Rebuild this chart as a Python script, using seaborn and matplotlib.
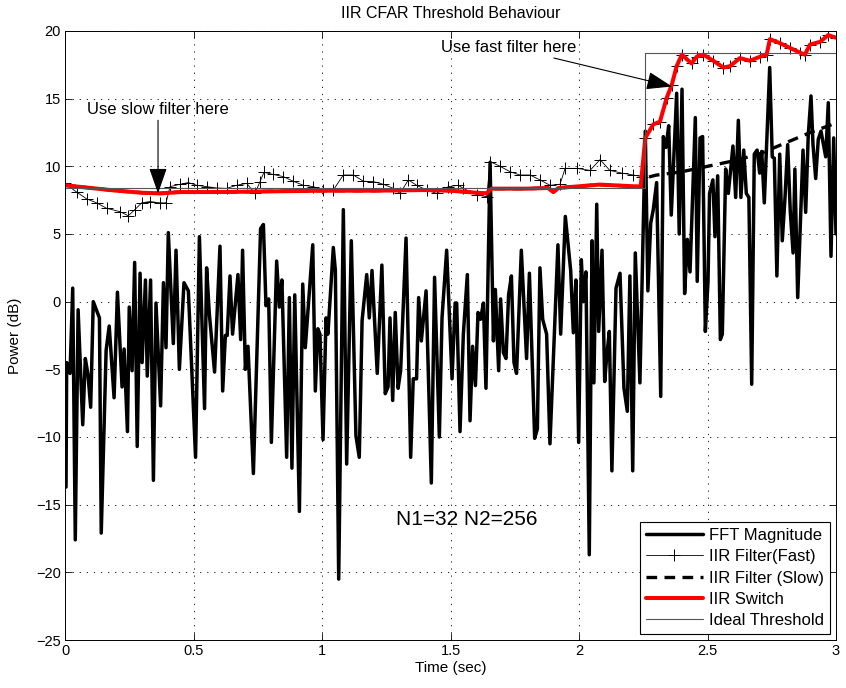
import matplotlib
matplotlib.use("Agg")
import matplotlib.pyplot as plt
import seaborn as sns

# ---------------- data ----------------
fft_t = [0.004, 0.0065, 0.0195, 0.030, 0.040, 0.051, 0.069, 0.079, 0.0895, 0.0999,
         0.110, 0.134, 0.141, 0.160, 0.172, 0.191, 0.204, 0.222, 0.230, 0.243,
         0.250, 0.261, 0.271, 0.281, 0.292, 0.300, 0.313, 0.320, 0.333, 0.344,
         0.354, 0.372, 0.383, 0.393, 0.402, 0.4215, 0.432, 0.445, 0.463, 0.480,
         0.508, 0.523, 0.543, 0.551, 0.5616, 0.582, 0.603, 0.6135, 0.624, 0.631,
         0.642, 0.652, 0.673, 0.6835, 0.691, 0.7017, 0.712, 0.733, 0.761, 0.772,
         0.782, 0.7925, 0.803, 0.8236, 0.834, 0.844, 0.8625, 0.873, 0.883, 0.894,
         0.912, 0.925, 0.935, 0.964, 0.974, 0.984, 0.992, 1.004, 1.0156, 1.023,
         1.044, 1.052, 1.065, 1.083, 1.096, 1.114, 1.132, 1.145, 1.156, 1.174,
         1.184, 1.1946, 1.215, 1.233, 1.246, 1.257, 1.2646, 1.275, 1.285, 1.296,
         1.306, 1.327, 1.345, 1.355, 1.368, 1.376, 1.3865, 1.405, 1.4254, 1.438,
         1.4566, 1.467, 1.485, 1.506, 1.518, 1.524, 1.537, 1.550, 1.5655, 1.576,
         1.586, 1.597, 1.607, 1.617, 1.628, 1.638, 1.654, 1.667, 1.6745, 1.6874,
         1.695, 1.7056, 1.716, 1.726, 1.737, 1.747, 1.757, 1.7756, 1.796, 1.807,
         1.8275, 1.838, 1.848, 1.8586, 1.874, 1.887, 1.918, 1.9287, 1.9468, 1.9676,
         1.978, 1.988, 1.9987, 2.009, 2.017, 2.027, 2.040, 2.0506, 2.058, 2.069,
         2.0765, 2.0895, 2.100, 2.108, 2.118, 2.128, 2.144, 2.1595, 2.175, 2.188,
         2.198, 2.209, 2.219, 2.237, 2.258, 2.268, 2.279, 2.289, 2.302, 2.318,
         2.328, 2.3385, 2.349, 2.359, 2.380, 2.390, 2.4008, 2.411, 2.4216, 2.432,
         2.4526, 2.460, 2.471, 2.481, 2.4916, 2.502, 2.508, 2.521, 2.529, 2.5396,
         2.550, 2.5577, 2.5707, 2.581, 2.599, 2.6096, 2.620, 2.630, 2.641, 2.651,
         2.661, 2.672, 2.682, 2.693, 2.703, 2.711, 2.721, 2.742, 2.752, 2.760,
         2.770, 2.781, 2.791, 2.8016, 2.812, 2.822, 2.833, 2.840, 2.851, 2.8716,
         2.882, 2.892, 2.9027, 2.9105, 2.921, 2.931, 2.9416, 2.960, 2.970, 2.9805,
         2.991, 3.000]
fft_db = [-13.7, -4.5, -5.3, 1.0, -17.6, -0.6, -9.1, -4.2, -5.4, -7.8,
          0.0, -1.2, -17.1, -3.6, -1.8, -7.1, 0.7, -6.3, -3.5, -9.6,
          -0.4, -5.1, 2.9, -10.7, 2.1, -4.5, 1.6, -5.5, 1.6, -13.2,
          -0.1, -7.7, 1.4, -3.4, 5.1, -3.1, 3.8, -5.0, 1.4, 0.8,
          -11.5, 4.8, -7.9, 2.5, -0.9, -5.2, 4.1, -6.6, -2.5, -2.5,
          1.9, -2.4, 2.0, -2.8, 3.8, -5.0, -3.3, -12.7, 5.4, 5.7,
          -0.3, 0.2, -10.4, 3.0, -0.4, 1.6, -11.5, 0.3, -12.3, 0.5,
          -15.5, 1.3, -3.4, 4.2, -6.6, -2.0, -2.4, -10.2, -1.2, -2.4,
          4.0, 2.3, -20.5, 6.8, -12.0, 4.5, -9.9, -11.5, -1.4, 2.0,
          -1.2, 2.3, -5.3, 2.7, -6.8, -6.3, -1.2, -7.3, -0.8, -6.4,
          -5.1, 4.7, -11.5, -5.7, -5.7, 0.3, -2.9, 0.8, -13.4, 1.8,
          -10.0, -1.2, 3.8, -5.7, -0.1, -0.1, -9.6, -2.4, 2.0, -8.8,
          -3.3, -6.2, -0.8, -1.3, -0.1, -6.4, 10.3, -2.9, 0.9, -5.1,
          0.2, -3.75, -4.2, 0.5, 1.9, -4.5, -5.3, 3.8, -4.2, 2.1,
          -10.1, -9.4, 2.5, -1.3, -2.4, -10.5, 4.2, -2.4, 6.3, 2.3,
          -2.3, 1.6, -10.4, 3.1, 0.0, 2.2, -18.7, 4.5, -6.0, 7.2,
          -2.2, 3.8, -5.9, -4.0, -2.2, -12.5, 1.0, 2.1, -6.4, -8.1,
          1.9, -12.5, 3.6, -6.0, 12.6, 0.8, 5.8, 6.8, 8.8, -7.0,
          12.2, 11.4, 13.0, 6.4, 15.4, 5.0, 15.7, 0.6, 4.6, 2.2,
          13.6, 1.5, 12.1, 12.2, -2.2, 1.5, 8.0, 9.0, 4.8, 9.3,
          -2.8, -2.4, 9.8, 8.0, 11.5, 7.7, 13.4, 7.7, 11.2, 8.0,
          7.7, -6.1, 10.9, 11.2, 9.5, 11.1, 7.3, 17.3, 10.7, 10.6,
          1.9, 10.9, 4.5, 7.7, 11.6, 6.7, 3.6, 9.8, 0.3, 11.2,
          6.6, 12.3, 15.2, 11.6, 9.1, 12.0, 12.6, 10.7, 14.7, 3.35,
          12.1, 5.0]

fast_t = [0.0, 0.045, 0.084, 0.123, 0.162, 0.214, 0.246, 0.272, 0.298, 0.331,
          0.370, 0.393, 0.4086, 0.447, 0.480, 0.512, 0.551, 0.590, 0.629, 0.668,
          0.707, 0.739, 0.759, 0.774, 0.810, 0.8495, 0.888, 0.927, 0.966, 1.005,
          1.044, 1.083, 1.122, 1.161, 1.200, 1.239, 1.278, 1.304, 1.336, 1.368,
          1.407, 1.446, 1.4916, 1.530, 1.550, 1.602, 1.641, 1.654, 1.693, 1.732,
          1.770, 1.809, 1.848, 1.887, 1.926, 1.946, 1.991, 2.043, 2.082, 2.120,
          2.166, 2.211, 2.244, 2.258, 2.289, 2.315, 2.341, 2.3606, 2.380, 2.400,
          2.438, 2.458, 2.484, 2.5227, 2.5616, 2.5875, 2.626, 2.665, 2.704, 2.730,
          2.743, 2.782, 2.821, 2.860, 2.879, 2.899, 2.938, 2.970, 3.000]
fast_db = [8.74, 8.1, 7.6, 7.3, 6.9, 6.65, 6.35, 6.8, 7.3, 7.4,
           7.3, 7.3, 8.5, 8.67, 8.8, 8.6, 8.5, 8.4, 8.37, 8.6,
           8.74, 8.0, 8.87, 9.56, 9.4, 9.24, 8.9, 8.6, 8.5, 8.25,
           8.25, 9.36, 9.36, 8.9, 8.87, 8.67, 8.37, 8.0, 9.0, 8.6,
           8.25, 8.0, 8.5, 8.6, 8.37, 7.9, 7.75, 10.35, 10.0, 9.6,
           9.36, 9.36, 9.0, 8.6, 8.67, 9.85, 9.85, 9.7, 10.5, 9.7,
           9.5, 9.36, 9.24, 12.1, 13.1, 13.3, 15.05, 16.0, 17.4, 18.25,
           17.6, 18.1, 18.25, 17.8, 17.3, 17.4, 18.0, 17.8, 18.1, 18.25,
           19.4, 19.1, 18.75, 18.4, 18.25, 19.0, 19.2, 19.7, 19.5]

slow_t = [0.0, 0.1, 0.2, 0.3, 0.37, 0.45, 0.6, 0.8, 1.0, 1.2,
          1.4, 1.5, 1.6, 1.64, 1.66, 1.8, 1.88, 1.9, 1.92, 2.08,
          2.24, 2.27, 2.3, 2.4, 2.5, 2.6, 2.7, 2.8, 2.9, 3.0]
slow_db = [8.6, 8.4, 8.2, 8.05, 8.0, 8.1, 8.1, 8.15, 8.2, 8.2,
           8.25, 8.2, 8.05, 8.0, 8.35, 8.35, 8.4, 8.1, 8.4, 8.65,
           8.5, 9.2, 9.35, 9.6, 10.0, 10.4, 10.9, 11.7, 12.5, 13.2]

switch_time = 2.25

ideal_t = [0.0, 2.257, 2.257, 3.0]
ideal_db = [8.4, 8.4, 18.4, 18.4]

legend_labels = ["FFT Magnitude", "IIR Filter(Fast)", "IIR Filter (Slow)",
                 "IIR Switch", "Ideal Threshold"]
x_ticks = [0, 0.5, 1, 1.5, 2, 2.5, 3]
x_tick_labels = ["0", "0.5", "1", "1.5", "2", "2.5", "3"]
y_ticks = [-25, -20, -15, -10, -5, 0, 5, 10, 15, 20]

# switch = slow filter before the switch time, fast filter afterwards
sw_t = [t for t in slow_t if t < switch_time] + [t for t in fast_t if t >= switch_time]
sw_db = ([v for t, v in zip(slow_t, slow_db) if t < switch_time]
         + [v for t, v in zip(fast_t, fast_db) if t >= switch_time])

# ---------------- style ----------------
sns.set_style("ticks")
plt.rcParams['font.family'] = ['Liberation Sans', 'DejaVu Sans']
plt.rcParams['axes.unicode_minus'] = True
plt.rcParams['text.color'] = 'black'
plt.rcParams['axes.labelcolor'] = 'black'
plt.rcParams['xtick.color'] = 'black'
plt.rcParams['ytick.color'] = 'black'

fig = plt.figure(figsize=(8.46, 6.88), dpi=100)
ax = fig.add_axes([65 / 846, 48 / 688, 771 / 846, 609 / 688])

sns.lineplot(x=fft_t, y=fft_db, ax=ax, color="black", linewidth=2.5,
             sort=False, estimator=None, label=legend_labels[0])
sns.lineplot(x=fast_t, y=fast_db, ax=ax, color="black", linewidth=0.6,
             marker="+", markersize=8, markeredgewidth=0.7, markeredgecolor="black",
             sort=False, estimator=None, label=legend_labels[1])
sns.lineplot(x=slow_t, y=slow_db, ax=ax, color="black", linewidth=2.4,
             sort=False, estimator=None, label=legend_labels[2])
ax.lines[-1].set_linestyle((0, (3.2, 2.2)))
sns.lineplot(x=sw_t, y=sw_db, ax=ax, color="#ff0000", linewidth=2.9,
             sort=False, estimator=None, label=legend_labels[3])
sns.lineplot(x=ideal_t, y=ideal_db, ax=ax, color="#555555", linewidth=0.8,
             sort=False, estimator=None, label=legend_labels[4])

ax.set_xlim(0, 3)
ax.set_ylim(-25, 20)
ax.set_xticks(x_ticks)
ax.set_xticklabels(x_tick_labels)
ax.set_yticks(y_ticks)

ax.grid(True, linestyle=(0, (1.5, 7)), color="black", linewidth=0.6)
ax.tick_params(direction="in", top=True, right=True, length=5, width=0.6,
               labelsize=10.5, pad=3, colors="black")
for s in ax.spines.values():
    s.set_color("black")
    s.set_linewidth(0.7)

ax.set_title("IIR CFAR Threshold Behaviour", fontsize=11.5, pad=9, color="black")
ax.set_xlabel("Time (sec)", fontsize=11, labelpad=2, color="black")
ax.set_ylabel("Power (dB)", fontsize=11, labelpad=10, color="black")

arrow = dict(arrowstyle="-|>,head_length=1.0,head_width=0.35", color="black",
             lw=0.8, mutation_scale=16, shrinkA=0, shrinkB=0)
ax.annotate("Use slow filter here", xy=(0.362, 8.0), xytext=(0.362, 14.2),
            ha="center", va="center", fontsize=12, color="black", arrowprops=arrow)
ax.annotate("Use fast filter here", xy=(2.362, 15.9), xytext=(1.728, 18.8),
            ha="center", va="center", fontsize=12, color="black", arrowprops=arrow)
ax.text(1.564, -16.1, "N1=32 N2=256", ha="center", va="center", fontsize=15,
        color="black")

leg = ax.legend(loc="lower right", frameon=True, fancybox=False, fontsize=12,
                handlelength=3.4, borderaxespad=0.35, labelspacing=0.38,
                handletextpad=0.4, borderpad=0.35)
leg.get_frame().set_edgecolor("black")
leg.get_frame().set_linewidth(0.8)
leg.get_frame().set_alpha(1)
for txt in leg.get_texts():
    txt.set_color("black")

fig.savefig("out.png", dpi=100)
